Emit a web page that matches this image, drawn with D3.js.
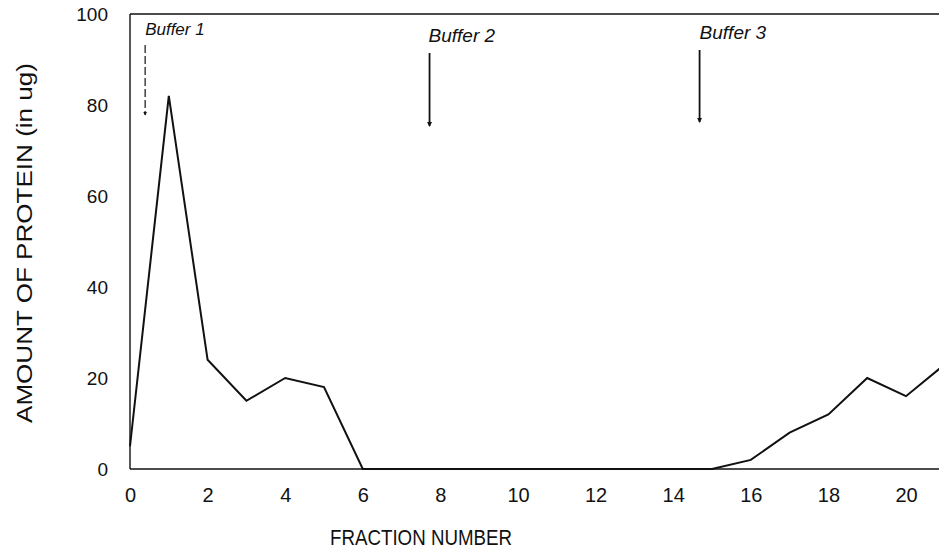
<!DOCTYPE html>
<html>
<head>
<meta charset="utf-8">
<script src="https://cdn.jsdelivr.net/npm/d3@7"></script>
<style>
  html, body { margin: 0; padding: 0; background: #fff; }
  svg { display: block; }
  text { font-family: "Liberation Sans", Arial, sans-serif; fill: #111; }
</style>
</head>
<body>
<svg id="chart" width="939" height="555"></svg>
<script>
// ---- data ----
const fractions = [0, 1, 2, 3, 4, 5, 6, 7, 8, 9, 10, 11, 12, 13, 14, 15, 16, 17, 18, 19, 20, 21];
const protein   = [5, 82, 24, 15, 20, 18, 0, 0, 0, 0, 0, 0, 0, 0, 0, 0, 2, 8, 12, 20, 16, 23];
const xTicks = [0, 2, 4, 6, 8, 10, 12, 14, 16, 18, 20];
const yTicks = [0, 20, 40, 60, 80, 100];
const bufferLabels = ["Buffer 1", "Buffer 2", "Buffer 3"];
const bufferPositions = [0.39, 7.72, 14.68];

// ---- layout ----
const svg = d3.select("#chart");
const x = d3.scaleLinear().domain([0, 20]).range([130, 906]);
const y = d3.scaleLinear().domain([0, 100]).range([469, 14]);

// frame: left axis, top border, bottom axis
const axisColor = "#111";
svg.append("line").attr("x1", x(0)).attr("x2", x(0)).attr("y1", y(100)).attr("y2", y(0))
  .attr("stroke", axisColor).attr("stroke-width", 1.4);
svg.append("line").attr("x1", x(0)).attr("x2", 939).attr("y1", y(100)).attr("y2", y(100))
  .attr("stroke", axisColor).attr("stroke-width", 1.6);
svg.append("line").attr("x1", x(0)).attr("x2", 939).attr("y1", y(0)).attr("y2", y(0))
  .attr("stroke", axisColor).attr("stroke-width", 1.6);

// x axis labels
const xAxis = d3.axisBottom(x).tickValues(xTicks).tickSize(0).tickPadding(0).tickFormat(d3.format("d"));
const gx = svg.append("g").attr("transform", `translate(0,${y(0)})`).call(xAxis);
gx.select(".domain").remove();
gx.selectAll("text")
  .attr("y", 33).attr("dy", null)
  .style("font-size", "20px")
  .style("font-family", "'Liberation Sans', Arial, sans-serif")
  .attr("fill", "#111");

// y axis labels
const yAxis = d3.axisLeft(y).tickValues(yTicks).tickSize(0).tickPadding(0).tickFormat(d3.format("d"));
const gy = svg.append("g").attr("transform", `translate(108,0)`).call(yAxis);
gy.select(".domain").remove();
gy.selectAll("text")
  .attr("x", 0).attr("dy", "0.36em")
  .style("font-size", "19px")
  .style("font-family", "'Liberation Sans', Arial, sans-serif")
  .attr("fill", "#111");

// data line
const line = d3.line().x((d, i) => x(fractions[i])).y(d => y(d));
svg.append("path")
  .datum(protein)
  .attr("d", line)
  .attr("fill", "none")
  .attr("stroke", "#111")
  .attr("stroke-width", 2)
  .attr("stroke-linejoin", "miter");

// buffer annotations
const labelDy = [35, 42, 39];
const labelSize = [17, 19, 19];
const arrowTop = [45, 53, 50];
const arrowBottom = [115, 126, 122];
const labelOffset = [0, -1, 0];

svg.append("defs").append("marker")
  .attr("id", "arrow").attr("viewBox", "0 0 6 6").attr("refX", 5).attr("refY", 3)
  .attr("markerWidth", 3).attr("markerHeight", 3).attr("orient", "auto")
  .attr("markerUnits", "strokeWidth")
  .append("path").attr("d", "M0,0 L6,3 L0,6 Z").attr("fill", "#111");

bufferLabels.forEach((lab, i) => {
  const bx = x(bufferPositions[i]);
  svg.append("text")
    .attr("x", bx + labelOffset[i]).attr("y", labelDy[i])
    .style("font-size", labelSize[i] + "px")
    .style("font-style", "italic")
    .text(lab);
  svg.append("line")
    .attr("x1", bx).attr("x2", bx)
    .attr("y1", arrowTop[i]).attr("y2", arrowBottom[i])
    .attr("stroke", "#111")
    .attr("stroke-width", i === 0 ? 1.2 : 1.8)
    .attr("stroke-dasharray", i === 0 ? "8,3" : null)
    .attr("marker-end", "url(#arrow)");
});

// axis titles
svg.append("text")
  .attr("x", 421).attr("y", 545)
  .attr("text-anchor", "middle")
  .attr("textLength", 182).attr("lengthAdjust", "spacingAndGlyphs")
  .style("font-size", "22px")
  .text("FRACTION NUMBER");

svg.append("text")
  .attr("transform", "translate(32,243) rotate(-90)")
  .attr("text-anchor", "middle")
  .attr("textLength", 360).attr("lengthAdjust", "spacingAndGlyphs")
  .style("font-size", "22px")
  .text("AMOUNT OF PROTEIN (in ug)");
</script>
</body>
</html>
